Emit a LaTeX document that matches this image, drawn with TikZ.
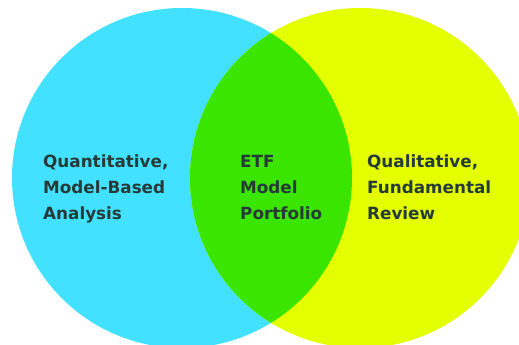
\documentclass[tikz,border=0pt]{standalone}
\usepackage{fontspec}
\setmainfont{DejaVu Sans}
\definecolor{quantcyan}{HTML}{42E1FF}
\definecolor{qualyellow}{HTML}{E3FF00}
\definecolor{etfgreen}{HTML}{3AE500}
\definecolor{labelgray}{HTML}{263A38}
\tikzset{
  vennlabel/.style={anchor=base west, inner sep=0pt, align=left, text=labelgray,
    font=\fontsize{16.8}{26}\selectfont\bfseries}
}

\begin{document}
\begin{tikzpicture}[x=1pt, y=1pt]

\useasboundingbox (0,0) rectangle (519,345) ;
\clip (0,0) rectangle (519,345) ;

\coordinate (quantc) at (182,167) ;
\coordinate (qualc) at (360,167) ;

\fill[quantcyan] (quantc) circle (170) ;
\fill[qualyellow] (qualc) circle (170) ;
\begin{scope}
\clip (quantc) circle (170) ;
\fill[etfgreen] (qualc) circle (170) ;
\end{scope}

% base anchor sits on the last line
\node[vennlabel] (quant) at (43,125.5) {Quantitative,\\Model-Based\\Analysis} ;
\node[vennlabel] (etf) at (240,125.5) {ETF\\Model\\Portfolio} ;
\node[vennlabel] (qual) at (367,125.5) {Qualitative,\\Fundamental\\Review} ;

\end{tikzpicture}
\end{document}
